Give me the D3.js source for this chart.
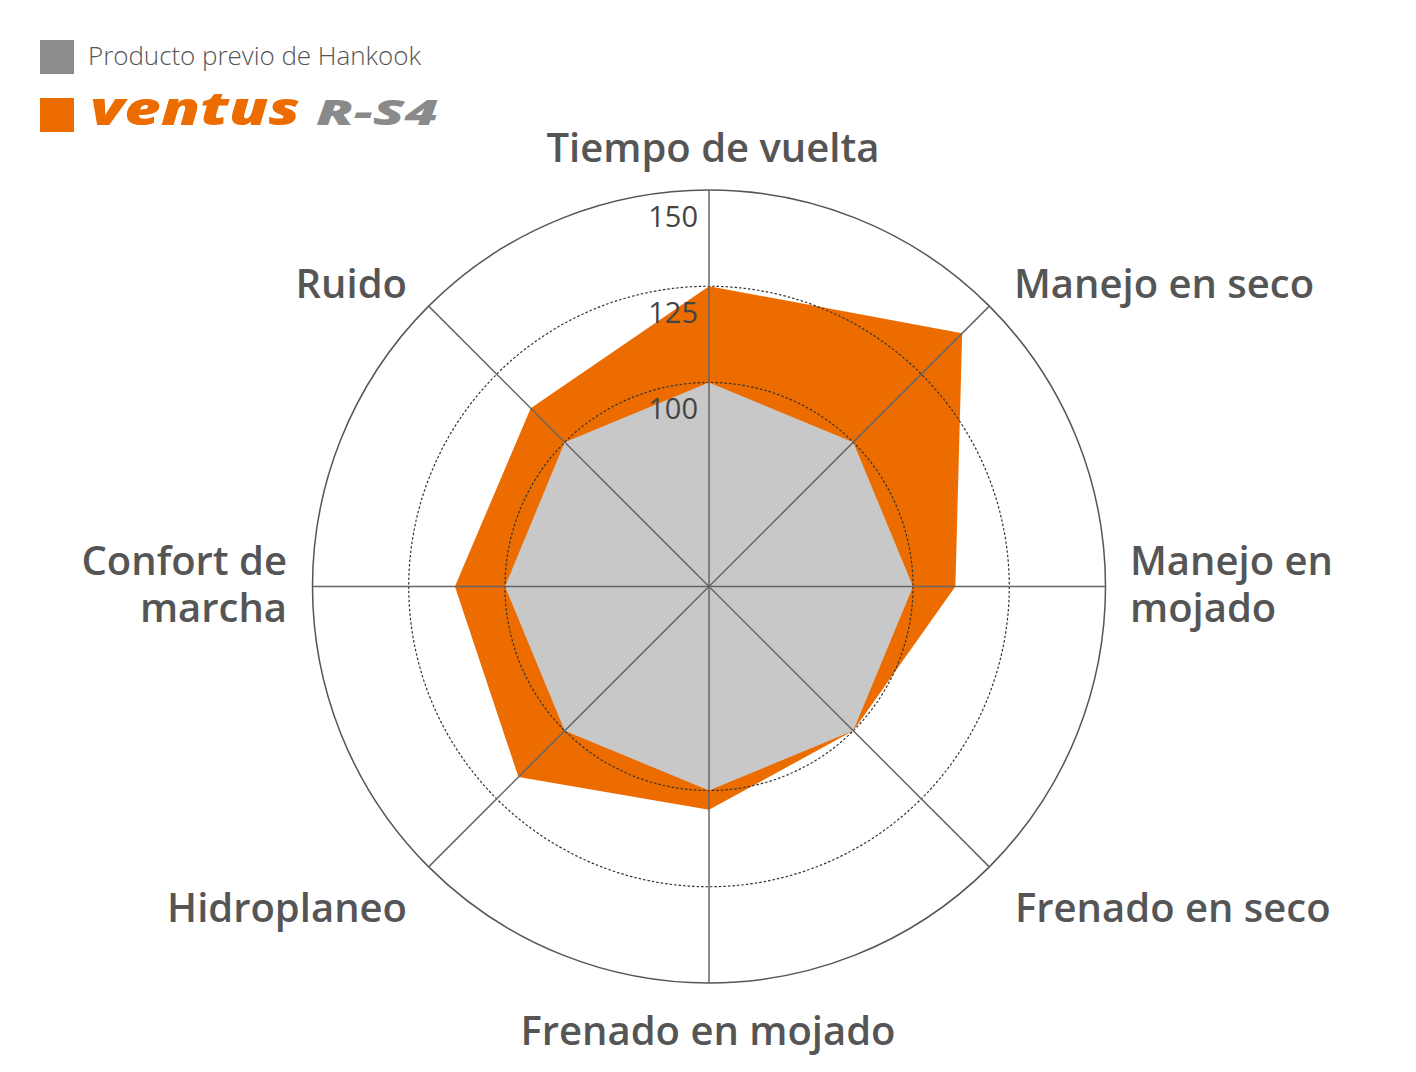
<!DOCTYPE html>
<html>
<head>
<meta charset="utf-8">
<title>Ventus R-S4 radar</title>
<style>
body { margin: 0; background: #fff; }
svg text { font-family: "Open Sans", sans-serif; }
.axis-label { font-size: 40px; font-weight: 600; fill: #555; }
.tick-label { font-size: 29px; font-weight: 400; fill: #444; }
</style>
</head>
<body>
<script src="https://cdn.jsdelivr.net/npm/d3@7"></script>
<script>

// Data
var categories = ["Tiempo de vuelta", "Manejo en seco", "Manejo en mojado", "Frenado en seco",
                  "Frenado en mojado", "Hidroplaneo", "Confort de marcha", "Ruido"];
var previousValues = [100, 100, 100, 100, 100, 100, 100, 100];
var ventusValues = [125, 140, 111, 100, 105, 117, 113, 112.5];
var ringValues = [100, 125];
var tickLabels = [150, 125, 100];
var seriesNames = ["Producto previo de Hankook", "ventus R-S4"];

// Layout
var width = 1416, height = 1072;
var cx = 709, cy = 586.5;
var outerR = 396.5;

var r = d3.scaleLinear().domain([47, 150]).range([0, outerR]);
var angle = d3.scaleLinear().domain([0, categories.length]).range([0, 2 * Math.PI]);

var svg = d3.select("body").append("svg")
    .attr("width", width)
    .attr("height", height);

var g = svg.append("g").attr("transform", "translate(" + cx + "," + cy + ")");

var radial = d3.lineRadial()
    .angle(function(d, i) { return angle(i); })
    .radius(function(d) { return r(d); })
    .curve(d3.curveLinearClosed);

// series polygons
g.append("path").datum(ventusValues)
    .attr("d", radial)
    .attr("fill", "#ec6c00");

g.append("path").datum(previousValues)
    .attr("d", radial)
    .attr("fill", "#c8c8c8");

// grid
g.selectAll(".ring")
    .data(ringValues)
    .enter().append("circle")
    .attr("class", "ring")
    .attr("r", function(d) { return r(d); })
    .attr("fill", "none")
    .attr("stroke", "#333")
    .attr("stroke-width", 1.2)
    .attr("stroke-dasharray", "2.5,2");

g.append("circle")
    .attr("r", outerR)
    .attr("fill", "none")
    .attr("stroke", "#555")
    .attr("stroke-width", 1.5);

g.selectAll(".spoke")
    .data(categories)
    .enter().append("line")
    .attr("class", "spoke")
    .attr("x1", 0).attr("y1", 0)
    .attr("x2", function(d, i) { return outerR * Math.sin(angle(i)); })
    .attr("y2", function(d, i) { return -outerR * Math.cos(angle(i)); })
    .attr("stroke", "#666")
    .attr("stroke-width", 1.5);

// tick labels along top spoke
g.selectAll(".tick-label")
    .data(tickLabels)
    .enter().append("text")
    .attr("class", "tick-label")
    .attr("x", -11)
    .attr("y", function(d) { return -r(d) + 37; })
    .attr("text-anchor", "end")
    .text(function(d) { return d; });

// category labels (one text per line)
var labelPos = [
    {x: 713, y: 162, anchor: "middle", lines: ["Tiempo de vuelta"]},
    {x: 1014, y: 298, anchor: "start", lines: ["Manejo en seco"]},
    {x: 1130, y: 575, anchor: "start", lines: ["Manejo en", "mojado"]},
    {x: 1015, y: 922, anchor: "start", lines: ["Frenado en seco"]},
    {x: 708, y: 1045, anchor: "middle", lines: ["Frenado en mojado"]},
    {x: 407, y: 922, anchor: "end", lines: ["Hidroplaneo"]},
    {x: 287, y: 575, anchor: "end", lines: ["Confort de", "marcha"]},
    {x: 407, y: 298, anchor: "end", lines: ["Ruido"]}
];

var labelLines = [];
labelPos.forEach(function(p) {
    p.lines.forEach(function(l, i) {
        labelLines.push({x: p.x, y: p.y + i * 47, anchor: p.anchor, t: l});
    });
});

svg.selectAll(".axis-label")
    .data(labelLines)
    .enter().append("text")
    .attr("class", "axis-label")
    .attr("text-anchor", function(d) { return d.anchor; })
    .attr("x", function(d) { return d.x; })
    .attr("y", function(d) { return d.y; })
    .text(function(d) { return d.t; });

// legend
var legend = svg.append("g");
legend.append("rect")
    .attr("x", 40).attr("y", 40).attr("width", 34).attr("height", 34)
    .attr("fill", "#8c8c8c");
legend.append("text")
    .attr("x", 88).attr("y", 65)
    .attr("font-size", 26).attr("font-weight", 300)
    .attr("fill", "#555")
    .attr("textLength", 333)
    .text(seriesNames[0]);

legend.append("rect")
    .attr("x", 40).attr("y", 98).attr("width", 34).attr("height", 34)
    .attr("fill", "#ec6c00");
legend.append("text")
    .attr("x", 90).attr("y", 125)
    .attr("font-size", 46).attr("font-weight", 800)
    .attr("font-style", "italic")
    .attr("fill", "#ec6c00")
    .attr("textLength", 210)
    .attr("lengthAdjust", "spacingAndGlyphs")
    .text(seriesNames[1].split(" ")[0]);
legend.append("text")
    .attr("x", 316).attr("y", 125)
    .attr("font-size", 36).attr("font-weight", 800)
    .attr("font-style", "italic")
    .attr("fill", "#8a8a8a")
    .attr("textLength", 122)
    .attr("lengthAdjust", "spacingAndGlyphs")
    .text(seriesNames[1].split(" ")[1]);

</script>
</body>
</html>
